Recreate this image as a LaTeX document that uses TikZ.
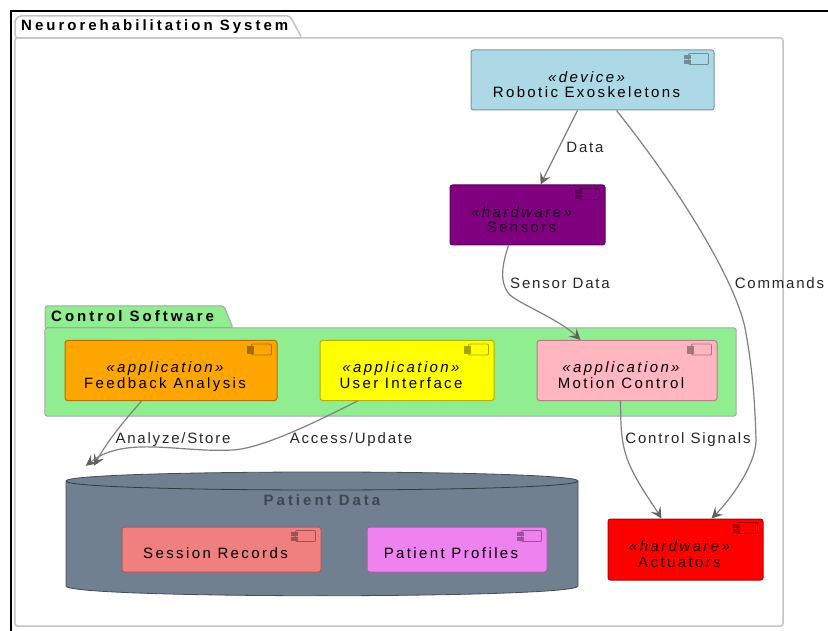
\documentclass[tikz,border=0pt]{standalone}
\usepackage{fontspec}
\setmainfont{Liberation Sans}
\newfontfamily\spaced[LetterSpace=16]{Liberation Sans}
\newfontfamily\spacedL[LetterSpace=12]{Liberation Sans}
\newfontfamily\spacedB[LetterSpace=20]{Liberation Sans}
\usetikzlibrary{arrows.meta,calc}
\definecolor{frameG}{HTML}{C4C4C4}
\definecolor{edgeG}{HTML}{808080}
\definecolor{headG}{HTML}{606060}
\definecolor{cLight}{HTML}{ADD8E6}
\definecolor{cPurple}{HTML}{800080}
\definecolor{cGreen}{HTML}{90EE90}
\definecolor{cOrange}{HTML}{FFA500}
\definecolor{cYellow}{HTML}{FFFF00}
\definecolor{cPink}{HTML}{FFB6C1}
\definecolor{cSlate}{HTML}{708090}
\definecolor{cCoral}{HTML}{F08080}
\definecolor{cViolet}{HTML}{EE82EE}
\definecolor{cRed}{HTML}{FF0000}
\newcommand\txtfont{\fontsize{15}{15.5}\selectfont\spaced}
\newcommand\lblfont{\fontsize{15}{15.5}\selectfont\spacedL}
\newcommand\ttlfont{\fontsize{15}{15.5}\selectfont\spacedB\bfseries}
\newcommand\boxtext[2]{\raisebox{0pt}[\dimexpr\height+14pt\relax][\depth]{\txtfont\begin{tabular}{@{}c@{}}{\itshape «#1»}\\#2\end{tabular}}\kern12pt}
\newcommand\onetext[1]{\raisebox{0pt}[\dimexpr\height+8pt\relax][\depth]{\txtfont #1}\kern12pt}
\newcommand\compicon[2]{%
  \draw[line width=.9pt,draw=#2!65!black,fill=#2,rounded corners=1pt]
    ($(#1.north east)+(-26,4)$) rectangle ($(#1.north east)+(-6,15)$);
  \draw[line width=.9pt,draw=#2!65!black,fill=#2!65!black]
    ($(#1.north east)+(-30,6)$) rectangle ($(#1.north east)+(-24,9)$)
    ($(#1.north east)+(-30,10.5)$) rectangle ($(#1.north east)+(-24,13.5)$);
}
\tikzset{
  compbox/.style={draw=#1!70!black,fill=#1,line width=1pt,rounded corners=2.5pt,inner sep=0pt,align=center},
  frameline/.style={draw=frameG,line width=1.5pt,rounded corners=3pt},
  conn/.style={draw=edgeG,line width=1.2pt,-{Stealth[length=11pt,width=11pt,inset=4.5pt,color=headG]}},
  lbl/.style={inner sep=0pt,font=\lblfont,text=black!85},
}
\begin{document}
\begin{tikzpicture}[x=1pt,y=-1pt]
\useasboundingbox (0,0) rectangle (828,631);
\fill[white] (0,0) rectangle (828,631);
% outer black border
\draw[black,line width=1.7pt] (11,631) -- (11,11) -- (828,11);
% outer package
\node[minimum width=768pt,minimum height=588pt,inner sep=0pt] (sys) at (399,332) {};
\draw[frameline,fill=white] (15,38) -- (15,21) -- (18,16) -- (290,16) -- (302,38) -- cycle;
\draw[frameline] (sys.north west) rectangle (sys.south east);
\node[anchor=west,inner sep=0pt,font=\ttlfont] (systitle) at (21,26.5) {Neurorehabilitation System};
% control software package
\node[minimum width=691pt,minimum height=88pt,inner sep=0pt] (ctl) at (390.5,372) {};
\draw[draw=black!35,fill=cGreen,line width=1pt,rounded corners=2.5pt] (45,328) -- (45,306) -- (224,306) -- (233,328) -- cycle;
\draw[draw=black!35,fill=cGreen,line width=1pt,rounded corners=2.5pt] (ctl.north west) rectangle (ctl.south east);
\draw[black!35,line width=1pt] (46,328) -- (232,328);
\node[anchor=west,inner sep=0pt,font=\ttlfont] (ctltitle) at (51,316) {Control Software};
% patient data store
\node[minimum width=512pt,minimum height=123pt,inner sep=0pt] (pat) at (322,533.5) {};
\draw[draw=black!40!cSlate,fill=cSlate,line width=.8pt]
  (66,481) .. controls (66,469) and (578,469) .. (578,481)
  -- (578,586) .. controls (578,599) and (66,599) .. (66,586) -- cycle;
\draw[draw=black!55!cSlate,line width=.8pt] (66,481) .. controls (66,493) and (578,493) .. (578,481);
\node[inner sep=0pt,font=\ttlfont,text=black!45!cSlate] (pattitle) at (322,500) {Patient Data};
% components
\node[compbox=cLight,minimum width=243pt,minimum height=60pt] (rob) at (592.5,80) {\boxtext{device}{Robotic Exoskeletons}};
\node[compbox=cPurple,minimum width=155pt,minimum height=60pt,text=black!75!cPurple] (sen) at (527.5,215) {\boxtext{hardware}{Sensors}};
\node[compbox=cOrange,minimum width=212pt,minimum height=60pt] (fee) at (171,370.5) {\boxtext{application}{Feedback Analysis}};
\node[compbox=cYellow,minimum width=174pt,minimum height=60pt] (usr) at (407,370.5) {\boxtext{application}{User Interface}};
\node[compbox=cPink,minimum width=180pt,minimum height=60pt] (mot) at (627,370.5) {\boxtext{application}{Motion Control}};
\node[compbox=cRed,minimum width=155pt,minimum height=61pt,text=black!85!cRed] (act) at (685.5,549.5) {\boxtext{hardware}{Actuators}};
\node[compbox=cCoral,minimum width=199pt,minimum height=45pt] (ses) at (221.5,549.5) {\onetext{Session Records}};
\node[compbox=cViolet,minimum width=180pt,minimum height=45pt] (pro) at (457,549.5) {\onetext{Patient Profiles}};
\compicon{rob}{cLight}
\compicon{sen}{cPurple}
\compicon{fee}{cOrange}
\compicon{usr}{cYellow}
\compicon{mot}{cPink}
\compicon{act}{cRed}
\compicon{ses}{cCoral}
\compicon{pro}{cViolet}
% free ends of the two arrows into the store
\coordinate (patinA) at ($(pat.north west)+(28,-6)$);
\coordinate (patinB) at ($(pat.north west)+(20,-6)$);
% connectors
\draw[conn] ($(rob.south west)+(107,0)$) -- ($(sen.north west)+(91,0)$);
\draw[conn] ($(rob.south west)+(146,0)$) .. controls (680,190) and (735,280) .. (745,328)
  .. controls (752,365) and (755,400) .. (756,440) .. controls (756,465) and (730,500) .. ($(act.north west)+(104,0)$);
\draw[conn] ($(sen.south west)+(59,0)$) .. controls (503,262) and (498,282) .. (510,295)
  .. controls (520,304) and (560,320) .. ($(mot.north west)+(44,0)$);
\draw[conn] ($(mot.south west)+(84,0)$) .. controls (621,425) and (620,445) .. (631,468)
  .. controls (640,487) and (652,503) .. ($(act.north west)+(54,0)$);
\draw[conn] ($(fee.south west)+(77,0)$) .. controls (125,420) and (108,440) .. (patinA);
\draw[conn] ($(usr.south west)+(38,0)$) .. controls (310,425) and (262,448) .. (233,450)
  .. controls (180,453) and (125,435) .. (patinB);
% labels
\node[lbl] (l1) at (585,147.5) {Data};
\node[lbl] (l2) at (560,283) {Sensor Data};
\node[lbl] (l3) at (779.5,283) {Commands};
\node[lbl] (l4) at (173,440) {Analyze/Store};
\node[lbl] (l5) at (351,440) {Access/Update};
\node[lbl] (l6) at (688,440) {Control Signals};
\end{tikzpicture}
\end{document}
